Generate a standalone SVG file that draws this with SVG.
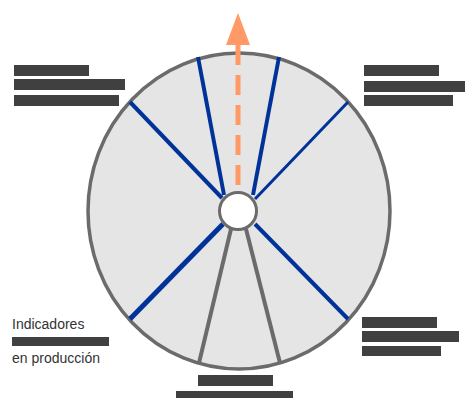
<svg xmlns="http://www.w3.org/2000/svg" width="465" height="398" viewBox="0 0 465 398">
  <defs>
    <style>
      .disc { fill: #e5e5e5; stroke: #6b6b6b; stroke-width: 3.5; }
      .hub { fill: #ffffff; stroke: #6b6b6b; stroke-width: 3; }
      .spoke-blue { stroke: #003399; stroke-width: 4; stroke-linecap: butt; }
      .spoke-gray { stroke: #6b6b6b; stroke-width: 4; stroke-linecap: butt; }
      .bar { fill: #404040; }
      .label { font-family: "Liberation Sans", Arial, sans-serif; font-size: 14px; fill: #333333; }
      .axis { stroke: #ff9966; stroke-width: 5; stroke-dasharray: 20 10; fill: none; }
      .axis-head { fill: #ff9966; }
    </style>
  </defs>

  <!-- wheel body -->
  <g id="wheel">
    <ellipse class="disc" cx="239" cy="211" rx="151" ry="158"/>
  </g>

  <!-- spokes -->
  <g id="connectors">
    <line class="spoke-blue" x1="224" y1="195" x2="198" y2="57"/>
    <line class="spoke-blue" x1="253" y1="195" x2="279" y2="57"/>
    <line class="spoke-blue" x1="255" y1="199" x2="348" y2="102" style="stroke-width:3"/>
    <line class="spoke-blue" x1="222" y1="198" x2="130" y2="102"/>
    <line class="spoke-blue" x1="223" y1="224" x2="130" y2="319" style="stroke-width:5"/>
    <line class="spoke-blue" x1="255" y1="224" x2="348" y2="319"/>
    <line class="spoke-gray" x1="231" y1="229" x2="199" y2="363"/>
    <line class="spoke-gray" x1="246" y1="229" x2="280" y2="363"/>
    <!-- dashed orange direction arrow -->
    <line class="axis" x1="238" y1="45" x2="238" y2="192"/>
    <polygon class="axis-head" points="238,13 226,45 250,45"/>
  </g>

  <!-- centre hub -->
  <g id="hub">
    <circle class="hub" cx="238" cy="211" r="18.5"/>
  </g>

  <!-- label blocks -->
  <g id="label-top-left">
    <rect class="bar" x="14" y="65" width="75" height="11"/>
    <rect class="bar" x="14" y="79" width="111" height="11"/>
    <rect class="bar" x="14" y="95" width="105" height="11"/>
  </g>
  <g id="label-top-right">
    <rect class="bar" x="364" y="65" width="75" height="11"/>
    <rect class="bar" x="364" y="81" width="101" height="11"/>
    <rect class="bar" x="364" y="95" width="89" height="11"/>
  </g>
  <g id="label-bottom-right">
    <rect class="bar" x="362" y="317" width="75" height="11"/>
    <rect class="bar" x="362" y="331" width="97" height="11"/>
    <rect class="bar" x="362" y="346" width="79" height="10"/>
  </g>
  <g id="label-bottom">
    <rect class="bar" x="198" y="375" width="75" height="11"/>
    <rect class="bar" x="176" y="391" width="117" height="7"/>
  </g>
  <g id="label-bottom-left">
    <text class="label" x="12" y="329">Indicadores</text>
    <rect class="bar" x="12" y="337" width="97" height="9"/>
    <text class="label" x="12" y="363">en producción</text>
  </g>
</svg>
